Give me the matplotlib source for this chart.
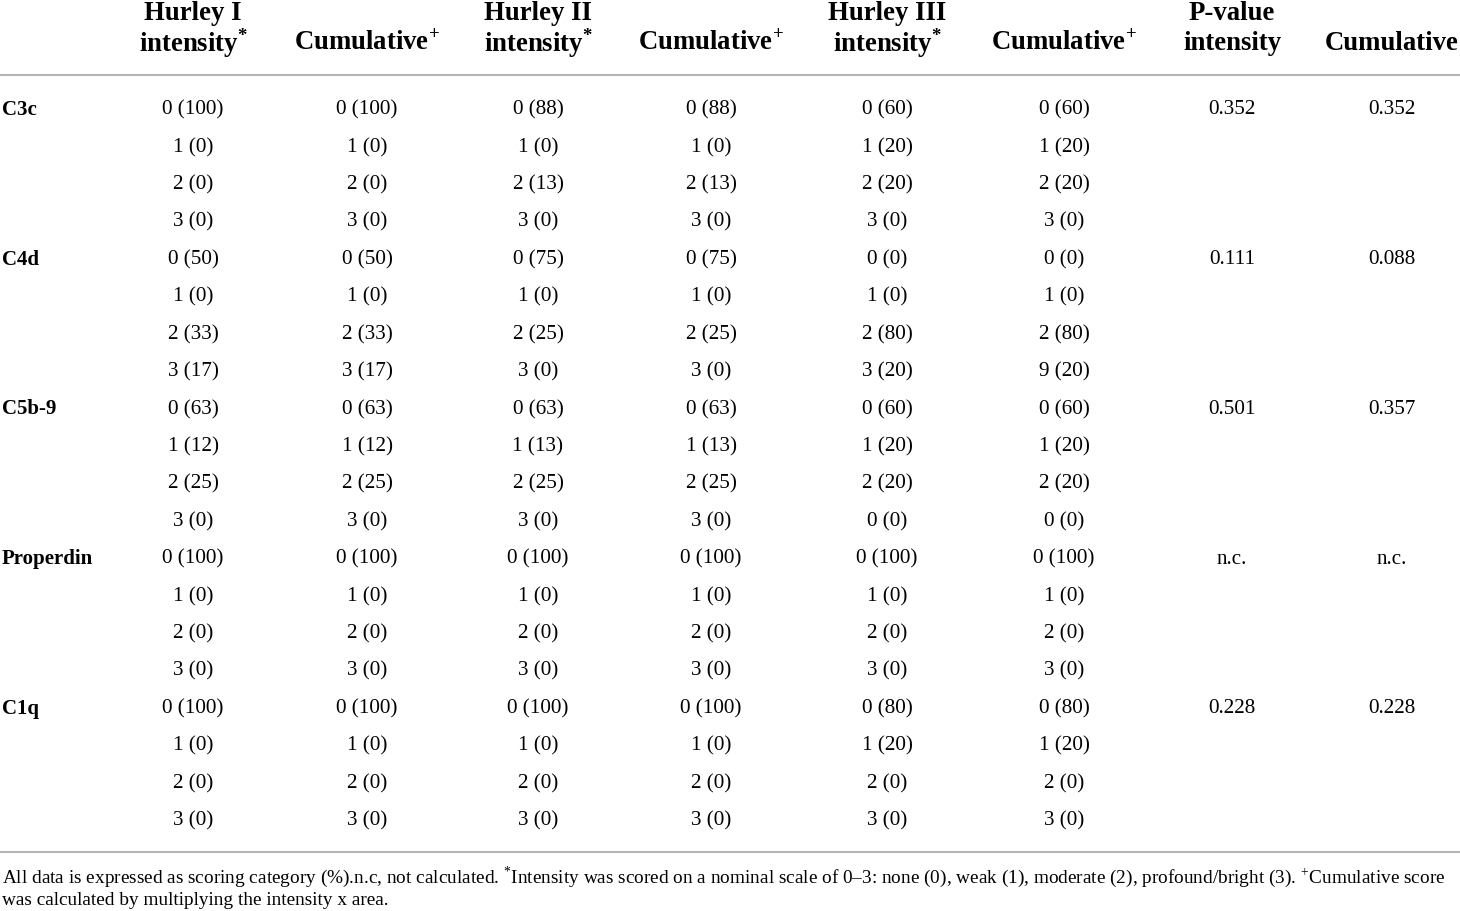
import matplotlib.pyplot as plt

plt.rcParams['font.family'] = ['Liberation Serif', 'DejaVu Serif']
plt.rcParams['mathtext.fontset'] = 'custom'
plt.rcParams['mathtext.rm'] = 'Liberation Serif'
plt.rcParams['mathtext.bf'] = 'Liberation Serif:bold'

markers = ['C3c', 'C4d', 'C5b-9', 'Properdin', 'C1q']

# score and percentage per row (4 rows per marker)
h1_int_score = [0, 1, 2, 3, 0, 1, 2, 3, 0, 1, 2, 3, 0, 1, 2, 3, 0, 1, 2, 3]
h1_int_pct = [100, 0, 0, 0, 50, 0, 33, 17, 63, 12, 25, 0, 100, 0, 0, 0, 100, 0, 0, 0]
h1_cum_score = [0, 1, 2, 3, 0, 1, 2, 3, 0, 1, 2, 3, 0, 1, 2, 3, 0, 1, 2, 3]
h1_cum_pct = [100, 0, 0, 0, 50, 0, 33, 17, 63, 12, 25, 0, 100, 0, 0, 0, 100, 0, 0, 0]
h2_int_score = [0, 1, 2, 3, 0, 1, 2, 3, 0, 1, 2, 3, 0, 1, 2, 3, 0, 1, 2, 3]
h2_int_pct = [88, 0, 13, 0, 75, 0, 25, 0, 63, 13, 25, 0, 100, 0, 0, 0, 100, 0, 0, 0]
h2_cum_score = [0, 1, 2, 3, 0, 1, 2, 3, 0, 1, 2, 3, 0, 1, 2, 3, 0, 1, 2, 3]
h2_cum_pct = [88, 0, 13, 0, 75, 0, 25, 0, 63, 13, 25, 0, 100, 0, 0, 0, 100, 0, 0, 0]
h3_int_score = [0, 1, 2, 3, 0, 1, 2, 3, 0, 1, 2, 0, 0, 1, 2, 3, 0, 1, 2, 3]
h3_int_pct = [60, 20, 20, 0, 0, 0, 80, 20, 60, 20, 20, 0, 100, 0, 0, 0, 80, 20, 0, 0]
h3_cum_score = [0, 1, 2, 3, 0, 1, 2, 9, 0, 1, 2, 0, 0, 1, 2, 3, 0, 1, 2, 3]
h3_cum_pct = [60, 20, 20, 0, 0, 0, 80, 20, 60, 20, 20, 0, 100, 0, 0, 0, 80, 20, 0, 0]
p_intensity = ['0.352', '0.111', '0.501', 'n.c.', '0.228']
p_cumulative = ['0.352', '0.088', '0.357', 'n.c.', '0.228']

star = r'$^{\mathbf{*}}$'
plus = r'$^{\mathbf{+}}$'
headers = [
    ('Hurley I', 'intensity' + star),
    (None, 'Cumulative' + plus),
    ('Hurley II', 'intensity' + star),
    (None, 'Cumulative' + plus),
    ('Hurley III', 'intensity' + star),
    (None, 'Cumulative' + plus),
    ('P-value', 'intensity'),
    (None, 'Cumulative'),
]
col_x = [193, 367, 538, 711, 887, 1064, 1232, 1392]

fig = plt.figure(figsize=(14.6, 9.12), dpi=100)
ax = fig.add_axes([0, 0, 1, 1])
ax.set_xlim(0, 1460)
ax.set_ylim(912, 0)
ax.axis('off')

hsize = 19.3
for x, (l1, l2) in zip(col_x, headers):
    if l1:
        ax.text(x, 13, l1, ha='center', va='center', fontsize=hsize, fontweight='bold')
    ax.text(x, 43, l2, ha='center', va='center', fontsize=hsize, fontweight='bold')

ax.plot([0, 1460], [76, 76], color='#b4b4b4', lw=1.5)
ax.plot([0, 1460], [853, 853], color='#b4b4b4', lw=1.5)

y0, dy = 110, 37.42
dsize = 15.2
cols = [(h1_int_score, h1_int_pct), (h1_cum_score, h1_cum_pct),
        (h2_int_score, h2_int_pct), (h2_cum_score, h2_cum_pct),
        (h3_int_score, h3_int_pct), (h3_cum_score, h3_cum_pct)]
for r in range(20):
    y = y0 + r * dy
    if r % 4 == 0:
        m = r // 4
        ax.text(2, y, markers[m], ha='left', va='center', fontsize=15, fontweight='bold')
        ax.text(col_x[6], y, p_intensity[m], ha='center', va='center', fontsize=dsize)
        ax.text(col_x[7], y, p_cumulative[m], ha='center', va='center', fontsize=dsize)
    for x, (sc, pc) in zip(col_x, cols):
        ax.text(x, y, f'{sc[r]} ({pc[r]})', ha='center', va='center', fontsize=dsize)

fsize = 13.9
ax.text(2, 877, 'All data is expressed as scoring category (%).n.c, not calculated. '
        r'$^{*}$Intensity was scored on a nominal scale of 0–3: none (0), weak (1), '
        r'moderate (2), profound/bright (3). $^{+}$Cumulative score',
        ha='left', va='center', fontsize=fsize)
ax.text(2, 901, 'was calculated by multiplying the intensity x area.',
        ha='left', va='center', fontsize=fsize)

fig.savefig('out.png', dpi=100)
